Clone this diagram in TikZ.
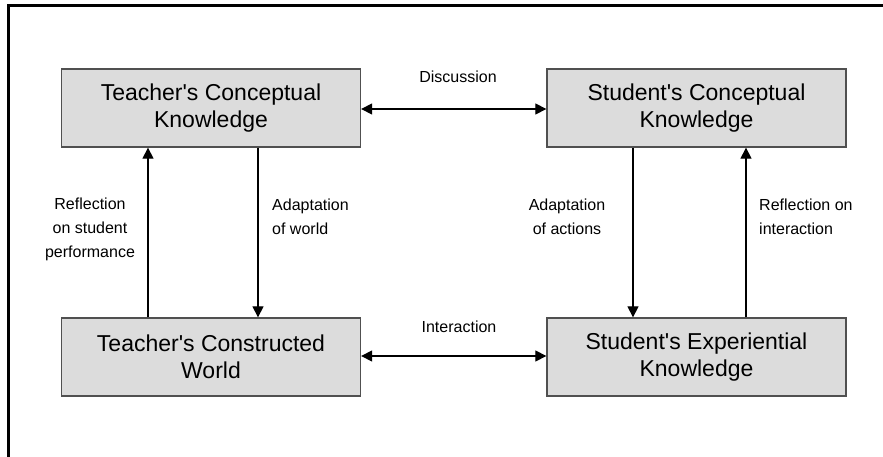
\documentclass[tikz,border=0pt]{standalone}
\usepackage{fontspec}
\setmainfont{Liberation Sans}
\usetikzlibrary{arrows.meta}
\definecolor{boxfill}{HTML}{DCDCDC}
\definecolor{boxline}{HTML}{505050}
\tikzset{
  conbox/.style={draw=boxline, fill=boxfill, line width=1.3pt, minimum width=299pt, minimum height=78pt, inner sep=0pt, align=center, font=\fontsize{23}{27}\selectfont},
  lbl/.style={font=\fontsize{16}{24}\selectfont, inner sep=0pt},
  conn/.style={line width=1.2pt, black},
  tip/.style={-{Triangle[length=11pt,width=11pt]}},
  dtip/.style={{Triangle[length=11pt,width=11pt]}-{Triangle[length=11pt,width=11pt]}}
}
\begin{document}
\begin{tikzpicture}[x=1pt,y=-1pt]
\useasboundingbox (0,0) rectangle (883,457);
\coordinate (fb) at (8.5,457);
\coordinate (fc) at (8.5,5.5);
\coordinate (fr) at (883,5.5);
\draw[line width=2.5pt] (fb) -- (fc) -- (fr);

\node[conbox] (tl) at (211,108) {Teacher\textquotesingle s Conceptual\\Knowledge};
\node[conbox] (tr) at (696.5,108) {Student\textquotesingle s Conceptual\\Knowledge};
\node[conbox] (bl) at (211,357) {Teacher\textquotesingle s Constructed\\World};
\node[conbox] (br) at (696.5,357) {Student\textquotesingle s Experiential\\Knowledge};

\coordinate (x1) at (148,0);
\coordinate (x2) at (258,0);
\coordinate (x3) at (633,0);
\coordinate (x4) at (746,0);

\draw[conn,dtip] (tl.east |- 0,109) -- (tr.west |- 0,109);
\draw[conn,dtip] (bl.east |- 0,356) -- (br.west |- 0,356);
\draw[conn,tip] (bl.north -| x1) -- (tl.south -| x1);
\draw[conn,tip] (tl.south -| x2) -- (bl.north -| x2);
\draw[conn,tip] (tr.south -| x3) -- (br.north -| x3);
\draw[conn,tip] (br.north -| x4) -- (tr.south -| x4);

\node[lbl] (ld) at (458,77) {Discussion};
\node[lbl] (li) at (459,327) {Interaction};
\node[lbl, align=center] (lr1) at (90,229) {Reflection\\on student\\performance};
\node[lbl, align=left, anchor=west] (la1) at (272,217) {Adaptation\\of world};
\node[lbl, align=center] (la2) at (567,217) {Adaptation\\of actions};
\node[lbl, align=left, anchor=west] (lr2) at (759,217) {Reflection on\\interaction};
\end{tikzpicture}
\end{document}
